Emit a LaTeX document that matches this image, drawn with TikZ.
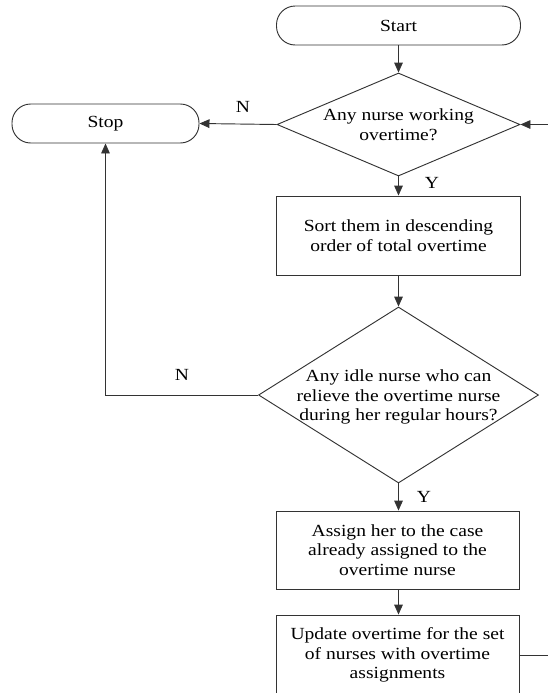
\documentclass[tikz,border=0pt]{standalone}
\usepackage{fontspec}
\setmainfont{Liberation Serif}[FakeStretch=1.15]
\usetikzlibrary{shapes.geometric,arrows.meta}
\newcommand{\pxu}{0.75pt}
\begin{document}
\begin{tikzpicture}[x=0.75pt,y=-0.75pt,
  font=\fontsize{12.75pt}{14.6pt}\selectfont,
  line/.style={draw=black!80, line width=0.7pt},
  arr/.style={line, -{Triangle[length=7.5pt,width=6.5pt]}},
  term/.style={line, rectangle, rounded corners=14pt, minimum height=39*\pxu, inner sep=0pt},
  proc/.style={line, rectangle, minimum width=244*\pxu, minimum height=79*\pxu, align=center, inner sep=0pt},
  dec/.style={line, diamond, inner sep=0pt},
  txt/.style={align=center, inner sep=0pt},
  lbl/.style={inner sep=0pt}
]
\useasboundingbox (0,0) rectangle (548,693);
\clip (0,0) rectangle (548,693);

\node[term, minimum width=244*\pxu] (start) at (398.5,25.5) {Start};
\node[term, minimum width=187*\pxu] (stop) at (105.5,123.5) {Stop};
\node[dec, minimum width=243*\pxu, minimum height=103*\pxu] (d1) at (398.5,124.5) {};
\node[txt] (t1) at (d1) {Any nurse working\\overtime?};
\node[proc] (sort) at (398.5,235.5) {Sort them in descending\\order of total overtime};
\node[dec, minimum width=280*\pxu, minimum height=176*\pxu] (d2) at (398.5,395) {};
\node[txt] (t2) at (398.5,397) {Any idle nurse who can\\relieve the overtime nurse\\during her regular hours?};
\node[proc, minimum width=243*\pxu, minimum height=78*\pxu] (assign) at (397.5,550) {Assign her to the case\\already assigned to the\\overtime nurse};
\node[proc, minimum width=243*\pxu, minimum height=80*\pxu] (update) at (397.5,655) {Update overtime for the set\\of nurses with overtime\\assignments};

\node[lbl] (n1) at (243,107) {N};
\node[lbl] (y1) at (432,183) {Y};
\node[lbl] (n2) at (182,375) {N};
\node[lbl] (y2) at (424,497) {Y};

\coordinate (loop) at (590,0);

\draw[arr] (start.south) -- (d1.north);
\draw[arr] (d1.west) -- (stop.east);
\draw[arr] (d1.south) -- (sort.north);
\draw[arr] (sort.south) -- (d2.north);
\draw[arr] (d2.west) -| (stop.south);
\draw[arr] (d2.south) -- (d2.south |- assign.north);
\draw[arr] (assign.south -| d2.south) -- (update.north -| d2.south);
\draw[arr] (update.east) -- (update.east -| loop) -- (d1.east -| loop) -- (d1.east);
\end{tikzpicture}
\end{document}
